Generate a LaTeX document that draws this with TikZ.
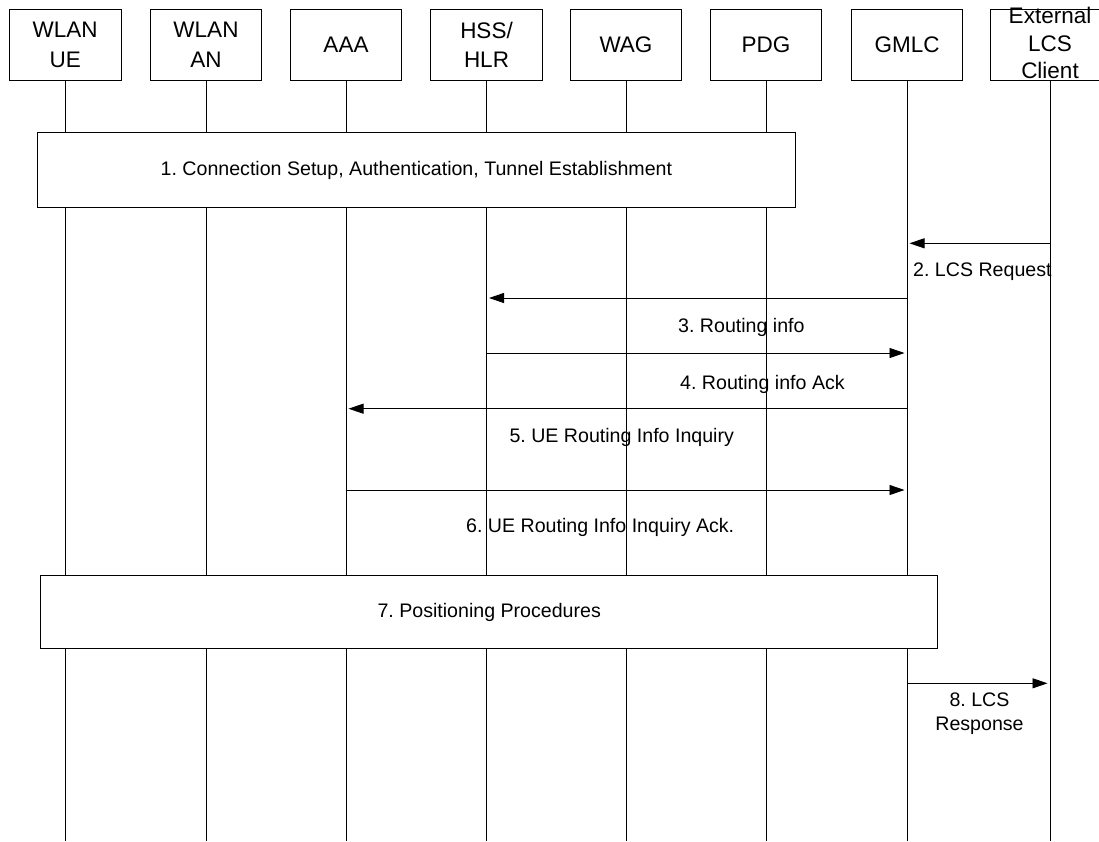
\documentclass[tikz,border=0pt]{standalone}
\usepackage{fontspec}
\setmainfont{Liberation Sans}
\usetikzlibrary{arrows.meta}
\frenchspacing
\tikzset{
  entity/.style={draw, line width=0.9pt, minimum width=111.7pt, minimum height=70.7pt,
    inner sep=0pt, align=center, font=\fontsize{22.5}{29.4}\selectfont},
  lifeline/.style={line width=0.9pt},
  stepbox/.style={draw, fill=white, line width=0.9pt, inner sep=0pt,
    font=\fontsize{19.6}{24}\selectfont},
  msg/.style={line width=0.9pt, shorten >=2.5pt, -{Triangle[length=15pt,width=10pt]}},
  msglabel/.style={inner sep=0pt, align=center, font=\fontsize{19.6}{24}\selectfont},
}
\begin{document}
\begin{tikzpicture}[x=1pt,y=-1pt]
\clip (0,0) rectangle (1099,841);
\fill[white] (0,0) rectangle (1099,841);

\node[entity] (ue) at (65.2,44.7) {WLAN\\UE};
\node[entity] (an) at (206,44.7) {WLAN\\AN};
\node[entity] (aaa) at (346,44.7) {AAA};
\node[entity] (hss) at (486.5,44.7) {HSS/\\HLR};
\node[entity] (wag) at (626,44.7) {WAG};
\node[entity] (pdg) at (766,44.7) {PDG};
\node[entity] (gmlc) at (907,44.7) {GMLC};
\node[entity, minimum width=120pt] (ext) at (1050,44.7) {};
\node[entity, draw=none, font=\fontsize{22.5}{27.5}\selectfont] (extname) at (1050,43) {External\\LCS\\Client};

\foreach \n in {ue,an,aaa,hss,wag,pdg,gmlc,ext}
  \draw[lifeline] (\n.south) -- (\n.south |- 0,841);

\node[stepbox, minimum width=757.3pt, minimum height=75pt] (setup) at (416.4,170.2)
  {1. Connection Setup, Authentication, Tunnel Establishment};

\draw[msg] (ext |- 0,243.3) -- (gmlc |- 0,243.3);
\node[msglabel, anchor=base west] (req) at (913,276) {2. LCS Request};

\draw[msg] (gmlc |- 0,298) -- (hss |- 0,298);
\node[msglabel, anchor=base west] (rinfo) at (678,332.3) {3. Routing info};

\draw[msg] (hss |- 0,353) -- (gmlc |- 0,353);
\node[msglabel, anchor=base west] (rack) at (680,389.3) {4. Routing info Ack};

\draw[msg] (gmlc |- 0,408.7) -- (aaa |- 0,408.7);
\node[msglabel, anchor=base west] (inq) at (509.3,442.7) {5. UE Routing Info Inquiry};

\draw[msg] (aaa |- 0,490) -- (gmlc |- 0,490);
\node[msglabel, anchor=base west] (inqack) at (466,532.3) {6. UE Routing Info Inquiry Ack.};

\node[stepbox, minimum width=897pt, minimum height=72.6pt] (pos) at (489.2,612)
  {7. Positioning Procedures};

\draw[msg] (gmlc |- 0,683.3) -- (ext |- 0,683.3);
\node[msglabel, anchor=base] (resp) at (979.5,730.7) {8. LCS\\Response};
\end{tikzpicture}
\end{document}
